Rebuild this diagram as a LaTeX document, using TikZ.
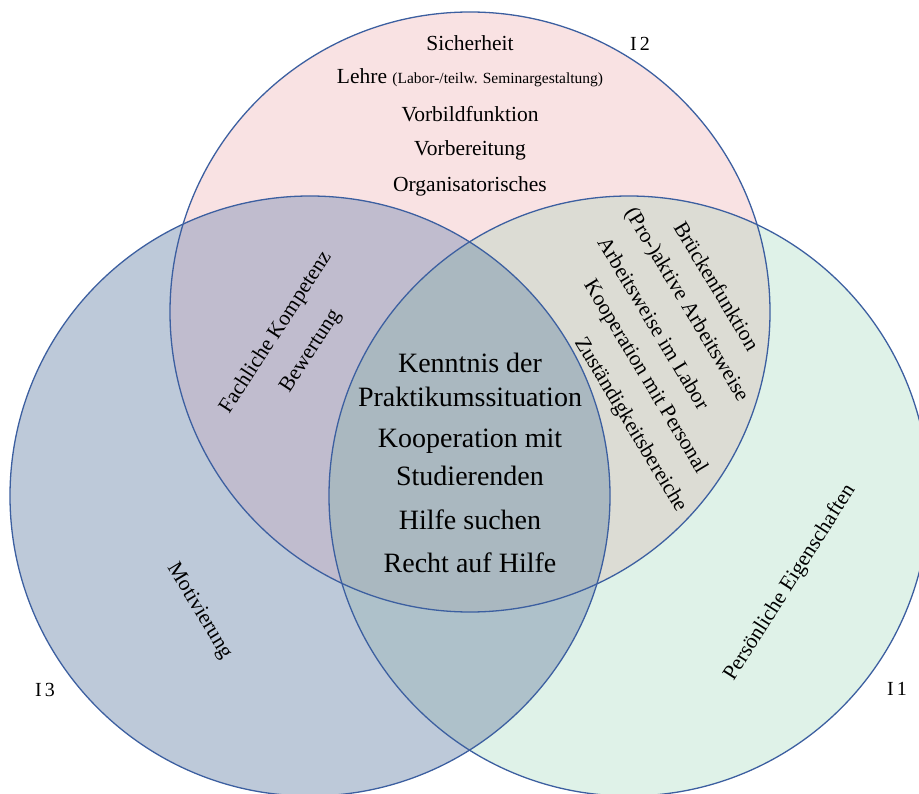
\documentclass[tikz,border=0pt]{standalone}
\usepackage{fontspec}
\setmainfont{Liberation Serif}

% fills of the three sets and of their overlaps
\definecolor{topfill}{HTML}{F9E2E3}
\definecolor{leftfill}{HTML}{BDC9D9}
\definecolor{rightfill}{HTML}{DFF2E8}
\definecolor{tlfill}{HTML}{C0BCCE}
\definecolor{trfill}{HTML}{DCDCD4}
\definecolor{lrfill}{HTML}{AEC1CA}
\definecolor{allfill}{HTML}{AAB8C0}
\definecolor{rim}{HTML}{3C5FA0}

\newcommand{\remark}[1]{{\fontsize{15.5}{18}\selectfont #1}}

\begin{document}
\begin{tikzpicture}[x=1pt,y=-1pt,
  txt/.style={inner sep=0pt, font=\fontsize{21.5}{25}\selectfont},
  big/.style={inner sep=0pt, font=\fontsize{28}{33}\selectfont},
  tag/.style={inner sep=0pt, font=\fontsize{20}{24}\selectfont},
  rimline/.style={draw=rim, line width=1.3pt}]

\clip (0,0) rectangle (919,794);

\coordinate (cT) at (470,312);
\coordinate (cL) at (310,496);
\coordinate (cR) at (629,496);
\def\R{300pt}

% single sets
\fill[topfill]   (cT) circle[radius=\R];
\fill[leftfill]  (cL) circle[radius=\R];
\fill[rightfill] (cR) circle[radius=\R];

% left and right overlap
\begin{scope}
  \clip (cL) circle[radius=\R];
  \fill[lrfill] (cR) circle[radius=\R];
\end{scope}

% overlaps with the top set, and the common core
\begin{scope}
  \clip (cT) circle[radius=\R];
  \fill[tlfill] (cL) circle[radius=\R];
  \fill[trfill] (cR) circle[radius=\R];
  \clip (cL) circle[radius=\R];
  \fill[allfill] (cR) circle[radius=\R];
\end{scope}

% outlines
\draw[rimline] (cT) circle[radius=\R];
\draw[rimline] (cL) circle[radius=\R];
\draw[rimline] (cR) circle[radius=\R];

% set labels
\node[tag] (i2) at (640,44) {I\,2};
\node[tag] (i3) at (45,690) {I\,3};
\node[tag] (i1) at (897,689) {I\,1};

% top set only
\node[txt] (t1) at (470,43)  {Sicherheit};
\node[txt] (t2) at (470,78)  {Lehre \remark{(Labor-/teilw. Seminargestaltung)}};
\node[txt] (t3) at (470,114) {Vorbildfunktion};
\node[txt] (t4) at (470,150) {Vorbereitung};
\node[txt] (t5) at (470,186) {Organisatorisches};

% top and left
\node[txt, rotate=57] (tl1) at (276,333) {Fachliche Kompetenz};
\node[txt, rotate=57] (tl2) at (311,351) {Bewertung};

% top and right
\node[txt, rotate=-59] (tr1) at (717,286) {Brückenfunktion};
\node[txt, rotate=-59] (tr2) at (686,305) {(Pro-)aktive Arbeitsweise};
\node[txt, rotate=-59] (tr3) at (654,323) {Arbeitsweise im Labor};
\node[txt, rotate=-59] (tr4) at (645,377) {Kooperation mit Personal};
\node[txt, rotate=-59] (tr5) at (630,425) {Zuständigkeitsbereiche};

% left only, right only
\node[txt, rotate=-59] (l1) at (199,611) {Motivierung};
\node[txt, rotate=57.6] (r1) at (790,583) {Persönliche Eigenschaften};

% common core
\node[big] (c1) at (470,363) {Kenntnis der};
\node[big] (c2) at (470,397) {Praktikumssituation};
\node[big] (c3) at (470,441) {Kooperation mit};
\node[big] (c4) at (470,476) {Studierenden};
\node[big] (c5) at (470,520) {Hilfe suchen};
\node[big] (c6) at (470,563) {Recht auf Hilfe};
\end{tikzpicture}
\end{document}
